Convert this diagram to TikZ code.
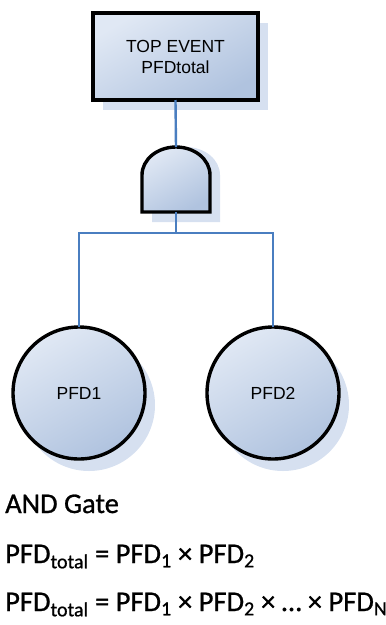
\documentclass[tikz,border=0pt]{standalone}
\usepackage{fontspec}
\setmainfont{Liberation Sans}
\newfontfamily\notefont[FakeBold=0.9]{Carlito}
\definecolor{wireblue}{RGB}{74,126,192}
\definecolor{filllight}{RGB}{224,232,244}
\definecolor{filldark}{RGB}{176,195,223}
\definecolor{shadowblue}{RGB}{214,224,240}
\tikzset{
  x=1pt, y=-1pt,
  wire/.style={draw=wireblue, line width=2.4pt},
  blockfill/.style={left color=filllight, right color=filldark, shading angle=30},
  outline/.style={draw=black, line width=3.4pt},
  shadowfill/.style={fill=shadowblue},
  eventtext/.style={font=\fontsize{17.5}{21}\selectfont, align=center, text=black},
  note/.style={font=\notefont\fontsize{28.5}{30}\selectfont, anchor=base west, inner sep=0pt},
}
\begin{document}
\begin{tikzpicture}
\useasboundingbox (0,0) rectangle (386,625);

% --- top event box ---
\fill[shadowfill] (103,23) rectangle (268,110);
\shade[blockfill] (93,13) rectangle (258,100);
\draw[outline] (93,13) rectangle (258,100);
\node[eventtext] (top) at (175.5,56.5) {TOP EVENT\\PFDtotal};
\coordinate (topb) at (175.5,100);

% --- AND gate (y axis points down, so the dome runs from 180 to 360) ---
\fill[shadowfill] (152,222) -- (152,175) arc[start angle=180, end angle=360, x radius=34, y radius=28] -- (220,222) -- cycle;
\shade[blockfill] (142,212) -- (142,175) arc[start angle=180, end angle=360, x radius=34, y radius=28] -- (210,212) -- cycle;
\draw[outline, line join=miter] (142,212) -- (142,175) arc[start angle=180, end angle=360, x radius=34, y radius=28] -- (210,212) -- cycle;
\coordinate (gatetop) at (176,147);
\coordinate (gatebot) at (176,212);

% --- basic events ---
\fill[shadowfill] (89,405) circle[radius=66];
\fill[shadowfill] (283,405) circle[radius=66];
\shade[blockfill] (79,393) circle[radius=66];
\shade[blockfill] (273,393) circle[radius=66];
\draw[outline] (79,393) circle[radius=66];
\draw[outline] (273,393) circle[radius=66];
\node[eventtext] (pfd1) at (79,393) {PFD1};
\node[eventtext] (pfd2) at (273,393) {PFD2};
\coordinate (pfd1t) at (79,327);
\coordinate (pfd2t) at (273,327);

% --- connectors ---
\draw[wire] (topb) -- (gatetop);
\draw[wire] (gatebot) -- (176,233) -| (pfd1t);
\draw[wire] (176,233) -| (pfd2t);

% --- notes ---
\node[note] (title) at (5,513) {AND Gate};
\node[note] (eq1) at (5,563) {PFD\textsubscript{total} = PFD\textsubscript{1} × PFD\textsubscript{2}};
\node[note] (eq2) at (5,611) {PFD\textsubscript{total} = PFD\textsubscript{1} × PFD\textsubscript{2} × … × PFD\textsubscript{N}};
\end{tikzpicture}
\end{document}
